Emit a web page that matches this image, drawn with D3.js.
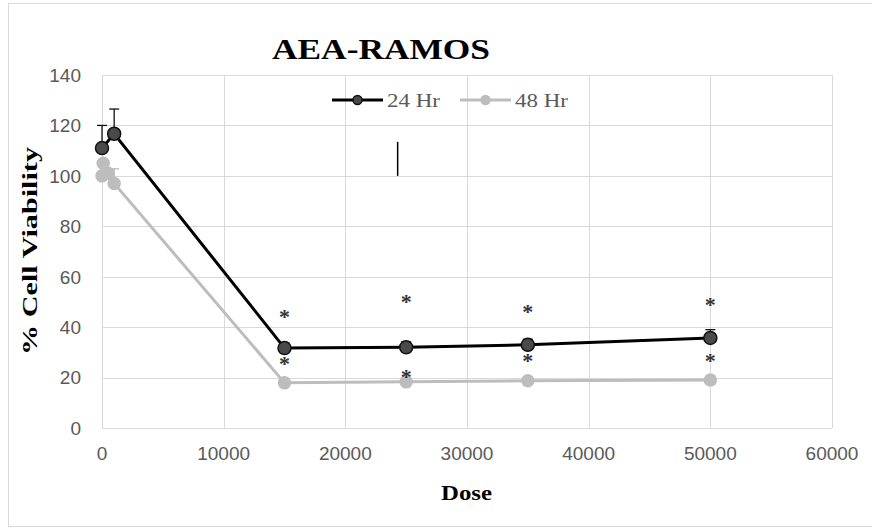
<!DOCTYPE html>
<html>
<head>
<meta charset="utf-8">
<script src="https://cdn.jsdelivr.net/npm/d3@7"></script>
<style>
  body { margin: 0; background: #fff; }
  .grid line { stroke: #d9d9d9; stroke-width: 1; }
  .tick-lbl { font-family: "Liberation Sans", Arial, sans-serif; font-size: 19px; fill: #595959; }
  .serif { font-family: "Liberation Serif", "Times New Roman", serif; }
</style>
</head>
<body>
<svg width="872" height="529"></svg>
<script>
// data
const doses24 = [0, 1000, 15000, 25000, 35000, 50000];
const viab24 = [111, 116.7, 31.7, 32, 33, 35.7];
const err24 = [9, 9.8, 2, 2.2, 2.2, 3.3];

const doses48 = [0, 100, 500, 1000, 15000, 25000, 35000, 50000];
const viab48 = [100, 105, 101, 97, 17.9, 18.3, 18.7, 19];
const err48 = [0, 0, 0, 5.8, 0, 0, 0, 0];

// stray error bar segment visible in the plot
const strayBar = [{ dose: 24300, lo: 100, hi: 113.5 }];

// significance stars: [dose, value]
const starsAbove = [[15000, 45.6], [25000, 51.6], [35000, 47.6], [50000, 50.4]];
const starsBelow = [[15000, 27], [25000, 21.8], [35000, 28.2], [50000, 28.2]];

const xTicks = [0, 10000, 20000, 30000, 40000, 50000, 60000];
const yTicks = [0, 20, 40, 60, 80, 100, 120, 140];

const svg = d3.select("svg");
const margin = {top: 75, right: 40, bottom: 101, left: 102};
const width = 832 - margin.left, height = 428 - margin.top;

// outer chart border
svg.append("rect")
  .attr("x", 8.5).attr("y", 3.5).attr("width", 870).attr("height", 523)
  .attr("fill", "none").attr("stroke", "#d9d9d9");

const g = svg.append("g").attr("transform", "translate(" + margin.left + "," + margin.top + ")");

const x = d3.scaleLinear().domain([0, 60000]).range([0, width]);
const y = d3.scaleLinear().domain([0, 140]).range([height, 0]);

// gridlines
g.append("g").attr("class", "grid")
  .selectAll("line").data(yTicks).join("line")
  .attr("x1", 0).attr("x2", width)
  .attr("y1", d => Math.round(y(d)) + 0.5).attr("y2", d => Math.round(y(d)) + 0.5);
g.append("g").attr("class", "grid")
  .selectAll("line").data(xTicks).join("line")
  .attr("y1", 0).attr("y2", height)
  .attr("x1", d => Math.round(x(d)) + 0.5).attr("x2", d => Math.round(x(d)) + 0.5);

// tick labels
g.append("g").selectAll("text").data(yTicks).join("text")
  .attr("class", "tick-lbl")
  .attr("x", -21).attr("y", d => y(d)).attr("dy", "0.36em")
  .attr("text-anchor", "end")
  .text(d => d);
g.append("g").selectAll("text").data(xTicks).join("text")
  .attr("class", "tick-lbl")
  .attr("x", d => x(d)).attr("y", height + 32)
  .attr("text-anchor", "middle")
  .text(d => d);

// title and axis titles (reference text is a bit stretched, so fix the lengths)
svg.append("text").attr("class", "serif")
  .attr("x", 272).attr("y", 59)
  .attr("textLength", 218).attr("lengthAdjust", "spacingAndGlyphs")
  .style("font-size", "30px").style("font-weight", "bold").attr("fill", "#000")
  .text("AEA-RAMOS");
svg.append("text").attr("class", "serif")
  .attr("x", 441).attr("y", 500)
  .attr("textLength", 51).attr("lengthAdjust", "spacingAndGlyphs")
  .style("font-size", "20px").style("font-weight", "bold").attr("fill", "#000")
  .text("Dose");
svg.append("text").attr("class", "serif")
  .attr("transform", "translate(37,355) rotate(-90)")
  .attr("textLength", 208).attr("lengthAdjust", "spacingAndGlyphs")
  .style("font-size", "21px").style("font-weight", "bold").attr("fill", "#000")
  .text("% Cell Viability");

const line = d3.line().x(d => x(d[0])).y(d => y(d[1]));

function drawSeries(doses, vals, errs, color, fill, stroke, r) {
  const pts = doses.map((d, i) => [d, vals[i], errs[i]]);
  g.append("path").datum(pts)
    .attr("d", line).attr("fill", "none")
    .attr("stroke", color).attr("stroke-width", 3);
  const eb = g.append("g");
  pts.filter(p => p[2] > 0).forEach(p => {
    eb.append("line").attr("x1", x(p[0])).attr("x2", x(p[0]))
      .attr("y1", y(p[1])).attr("y2", y(p[1] + p[2]))
      .attr("stroke", stroke).attr("stroke-width", 1.3);
    eb.append("line").attr("x1", x(p[0]) - 5).attr("x2", x(p[0]) + 5)
      .attr("y1", y(p[1] + p[2])).attr("y2", y(p[1] + p[2]))
      .attr("stroke", stroke).attr("stroke-width", 1.3);
  });
  g.append("g").selectAll("circle").data(pts).join("circle")
    .attr("cx", d => x(d[0])).attr("cy", d => y(d[1])).attr("r", r)
    .attr("fill", fill).attr("stroke", stroke).attr("stroke-width", 1.5);
}

drawSeries(doses48, viab48, err48, "#bdbdbd", "#bdbdbd", "#bdbdbd", 6);
drawSeries(doses24, viab24, err24, "#000", "#4a4a4a", "#111", 6.5);

// stray bar
g.selectAll(".stray").data(strayBar).join("line")
  .attr("x1", d => x(d.dose)).attr("x2", d => x(d.dose))
  .attr("y1", d => y(d.lo)).attr("y2", d => y(d.hi))
  .attr("stroke", "#000").attr("stroke-width", 1.5);

// stars
g.append("g").selectAll("text").data(starsAbove.concat(starsBelow)).join("text")
  .attr("class", "serif")
  .attr("x", d => x(d[0])).attr("y", d => y(d[1])).attr("dy", "0.5em")
  .attr("text-anchor", "middle").style("font-size", "22px").style("font-weight", "bold").attr("fill", "#333")
  .text("*");

// legend
const legend = svg.append("g").attr("transform", "translate(332,100)");
const items = [["24 Hr", "#000", "#4a4a4a", "#111", 0], ["48 Hr", "#bdbdbd", "#bdbdbd", "#bdbdbd", 128]];
items.forEach(it => {
  const lg = legend.append("g").attr("transform", "translate(" + it[4] + ",0)");
  lg.append("line").attr("x1", 0).attr("x2", 51).attr("y1", 0).attr("y2", 0)
    .attr("stroke", it[1]).attr("stroke-width", 3);
  lg.append("circle").attr("cx", 25.5).attr("cy", 0).attr("r", 4.5)
    .attr("fill", it[2]).attr("stroke", it[3]).attr("stroke-width", 1.5);
  lg.append("text").attr("class", "serif").attr("x", 55).attr("y", 0).attr("dy", "0.35em")
    .attr("textLength", 53).attr("lengthAdjust", "spacingAndGlyphs")
    .style("font-size", "19px").attr("fill", "#595959").text(it[0]);
});
</script>
</body>
</html>
